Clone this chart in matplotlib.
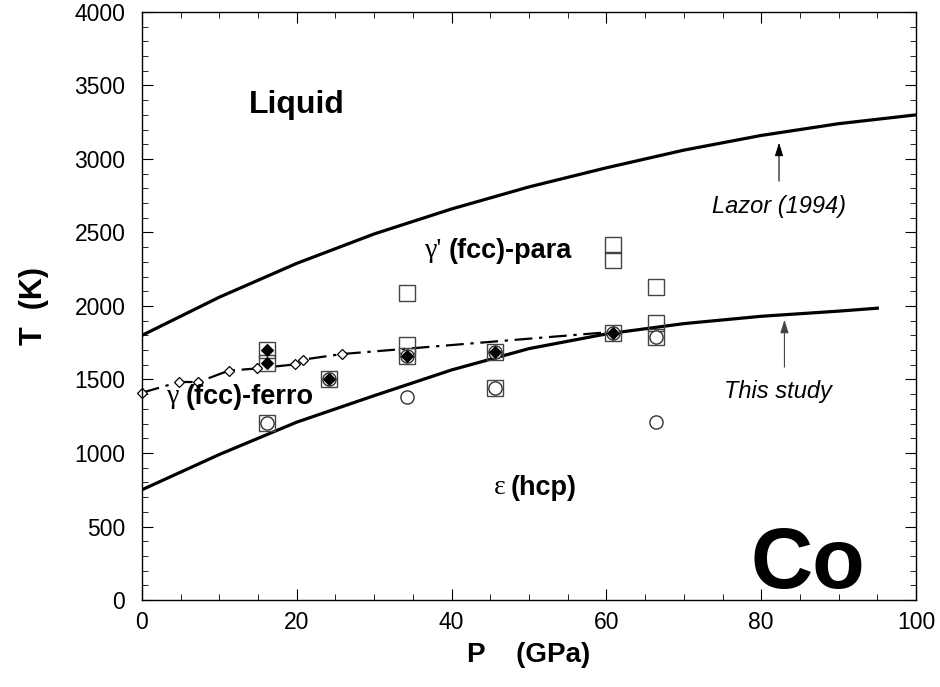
import matplotlib
matplotlib.use("Agg")
import matplotlib.pyplot as plt
import numpy as np

plt.rcParams['font.family'] = ['Liberation Sans', 'DejaVu Sans']

# melting curves
lazor_p = [0, 10, 20, 30, 40, 50, 60, 70, 80, 90, 100]
lazor_t = [1800, 2060, 2290, 2490, 2660, 2810, 2940, 3060, 3160, 3240, 3300]
this_p = [0, 10, 20, 30, 40, 50, 60, 70, 80, 90, 95]
this_t = [750, 990, 1210, 1390, 1565, 1710, 1810, 1880, 1930, 1965, 1985]

# gamma-epsilon boundary (dash-dot) and open diamonds
ferro_line_p = [0, 4.8, 7.3, 11.2, 14.8, 19.8, 20.8, 25.8, 61]
ferro_line_t = [1410, 1483, 1483, 1560, 1575, 1603, 1635, 1673, 1825]
diam_p = [0, 4.8, 7.3, 11.2, 14.8, 19.8, 20.8, 25.8]
diam_t = [1410, 1483, 1483, 1560, 1575, 1603, 1635, 1673]

# this study: squares, circles, filled diamonds
sq_p = [16.2, 16.2, 16.2, 24.2, 34.2, 34.2, 34.2, 45.6, 45.6, 60.9, 60.9, 60.9, 66.4, 66.4, 66.4]
sq_t = [1701, 1610, 1206, 1501, 2086, 1735, 1660, 1689, 1440, 2415, 2313, 1818, 2131, 1882, 1787]
ci_p = [16.2, 24.2, 34.2, 34.2, 45.6, 45.6, 60.9, 66.4, 66.4]
ci_t = [1206, 1501, 1660, 1383, 1689, 1440, 1818, 1787, 1213]
fd_p = [16.2, 16.2, 24.2, 34.2, 45.6, 60.9]
fd_t = [1701, 1610, 1501, 1660, 1689, 1818]

fig = plt.figure(figsize=(9.4, 6.87), dpi=100)
ax = fig.add_axes([0.151, 0.1266, 0.8235, 0.856])

ax.plot(lazor_p, lazor_t, color='black', lw=2.3)
ax.plot(this_p, this_t, color='black', lw=2.3)
ax.plot(ferro_line_p, ferro_line_t, color='black', lw=1.6, ls=(0, (8, 3, 1.5, 3)))

ax.plot(sq_p, sq_t, ls='none', marker='s', ms=12, mfc='none', mec='#444444', mew=1.0)
ax.plot(ci_p, ci_t, ls='none', marker='o', ms=9.5, mfc='white', mec='#333333', mew=1.0)
ax.plot(fd_p, fd_t, ls='none', marker='D', ms=6, mfc='black', mec='black', mew=0.8)
ax.plot(diam_p, diam_t, ls='none', marker='D', ms=5.6, mfc='white', mec='black', mew=0.9, clip_on=False)

ax.set_xlim(0, 100)
ax.set_ylim(0, 4000)
ax.set_xticks(np.arange(0, 101, 20))
ax.set_xticks(np.arange(0, 101, 5), minor=True)
ax.set_yticks(np.arange(0, 4001, 500))
ax.set_yticks(np.arange(0, 4001, 100), minor=True)
ax.tick_params(which='both', direction='in', top=True, right=True, labelsize=16.5)
ax.tick_params(which='major', length=8, width=0.8)
ax.tick_params(which='minor', length=4, width=0.6)
ax.tick_params(axis='x', pad=8)
ax.tick_params(axis='y', pad=12)
for s in ax.spines.values():
    s.set_linewidth(1.0)

ax.set_xlabel('P    (GPa)', fontsize=20, fontweight='bold', labelpad=6)
ax.set_ylabel('T  (K)', fontsize=22, fontweight='bold', labelpad=18)

ax.text(20, 3370, 'Liquid', fontsize=23, fontweight='bold', ha='center', va='center')
ax.text(36.6, 2375, "\u03b3'", family='Liberation Serif', fontsize=20, ha='left', va='center')
ax.text(39.6, 2375, '(fcc)-para', fontsize=19.5, fontweight='bold', ha='left', va='center')
ax.text(3.2, 1383, '\u03b3', family='Liberation Serif', fontsize=20, ha='left', va='center')
ax.text(5.6, 1383, '(fcc)-ferro', fontsize=19.5, fontweight='bold', ha='left', va='center')
ax.text(45.5, 762, '\u03b5', family='Liberation Serif', fontsize=20, ha='left', va='center')
ax.text(47.6, 762, '(hcp)', fontsize=19.5, fontweight='bold', ha='left', va='center')
ax.text(86, 230, 'Co', fontsize=62, fontweight='bold', ha='center', va='center')

ax.annotate('', xy=(82.3, 3130), xytext=(82.3, 2830),
            arrowprops=dict(arrowstyle='-|>,head_length=0.8,head_width=0.25', color='black', lw=0.8))
ax.text(82.3, 2680, 'Lazor (1994)', fontsize=17, style='italic', ha='center', va='center')
ax.annotate('', xy=(83, 1925), xytext=(83, 1565),
            arrowprops=dict(arrowstyle='-|>,head_length=0.8,head_width=0.25', color='#444444', lw=0.8))
ax.text(82.2, 1415, 'This study', fontsize=17, style='italic', ha='center', va='center')

fig.savefig('out.png', dpi=100)
